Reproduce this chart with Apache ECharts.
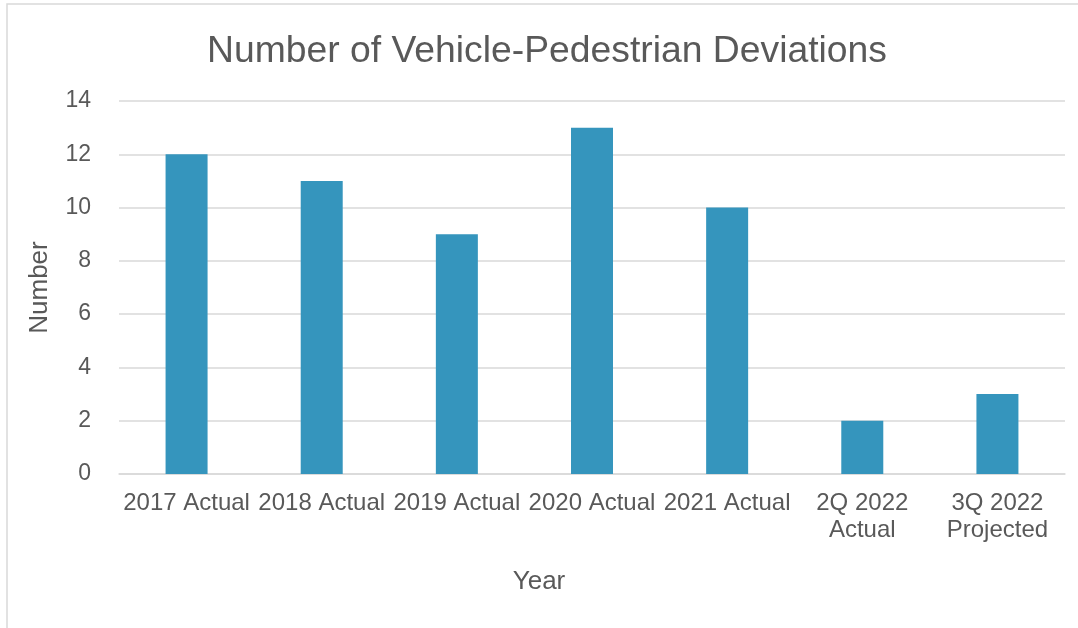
<!DOCTYPE html>
<html>
<head>
<meta charset="utf-8">
<script src="https://cdn.jsdelivr.net/npm/echarts@6/dist/echarts.min.js"></script>
<style>
  html, body { margin: 0; padding: 0; background: #fff; }
  #chart { width: 1078px; height: 628px; }
</style>
</head>
<body>
<div id="chart"></div>
<script>
var categories = ["2017 Actual", "2018 Actual", "2019 Actual", "2020 Actual", "2021 Actual", "2Q 2022\nActual", "3Q 2022\nProjected"];
var deviations = [12, 11, 9, 13, 10, 2, 3];

var myChart = echarts.init(document.getElementById("chart"), null, { renderer: "canvas" });
var textFont = "'Liberation Sans', Arial, sans-serif";

myChart.setOption({
  animation: false,
  textStyle: { fontFamily: textFont },
  graphic: [{
    type: "rect",
    shape: { x: 7, y: 4, width: 1080, height: 640 },
    style: { fill: "none", stroke: "#d9d9d9", lineWidth: 1.5 },
    silent: true
  }],
  title: {
    text: "Number of Vehicle-Pedestrian Deviations",
    left: 207,
    top: 33,
    padding: 0,
    textStyle: { fontSize: 37.3, fontWeight: "normal", color: "#595959", fontFamily: textFont }
  },
  grid: { left: 119, right: 13, top: 101, bottom: 154 },
  xAxis: {
    type: "category",
    data: categories,
    name: "Year",
    nameLocation: "middle",
    nameGap: 95,
    nameTextStyle: { fontSize: 26, color: "#595959", padding: [0, 106, 0, 0] },
    axisLine: { lineStyle: { color: "#d9d9d9", width: 1.5 } },
    axisTick: { show: false },
    axisLabel: { fontSize: 24, color: "#595959", margin: 16, lineHeight: 27, interval: 0 }
  },
  yAxis: {
    type: "value",
    min: 0,
    max: 14,
    interval: 2,
    name: "Number",
    nameLocation: "middle",
    nameGap: 66,
    nameRotate: 90,
    nameTextStyle: { fontSize: 26, color: "#595959" },
    axisLine: { show: false },
    axisTick: { show: false },
    axisLabel: { fontSize: 23, color: "#595959", margin: 28 },
    splitLine: { lineStyle: { color: "#d9d9d9", width: 1.5 } }
  },
  series: [{
    type: "bar",
    data: deviations,
    barWidth: 42,
    itemStyle: { color: "#3595bd" }
  }]
});
</script>
</body>
</html>
